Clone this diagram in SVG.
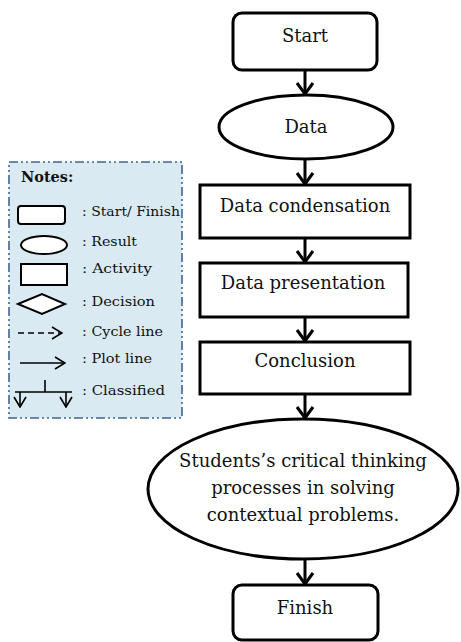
<svg xmlns="http://www.w3.org/2000/svg" width="461" height="642" viewBox="0 0 461 642">
<defs>
<style>
.bg{fill:#ffffff}
.node{fill:#ffffff;stroke:#000;stroke-width:3}
.t{font-family:"DejaVu Serif","Liberation Serif",serif;font-size:18px;fill:#111;text-anchor:middle}
.lg{fill:#daeaf3;stroke:#3f6590;stroke-width:1.6;stroke-dasharray:9,3,2,3,2,3}
.ls{fill:#ffffff;stroke:#000;stroke-width:2}
.lt{font-family:"DejaVu Serif","Liberation Serif",serif;font-size:13.5px;fill:#111}
.lh{font-family:"DejaVu Serif","Liberation Serif",serif;font-size:14.5px;font-weight:bold;fill:#111}
.conn{fill:none;stroke:#000;stroke-width:3}
.ll{fill:none;stroke:#000;stroke-width:1.6}
</style>
<marker id="ah" viewBox="0 0 14 20" refX="12" refY="10" markerWidth="14" markerHeight="20" markerUnits="userSpaceOnUse" orient="auto">
<path d="M1,2 L12,10 L1,18" fill="none" stroke="#000" stroke-width="3"/>
</marker>
<marker id="ahs" viewBox="0 0 12 14" refX="11" refY="7" markerWidth="12" markerHeight="14" markerUnits="userSpaceOnUse" orient="auto">
<path d="M1,1 L11,7 L1,13" fill="none" stroke="#000" stroke-width="1.6"/>
</marker>
</defs>
<rect class="bg" x="0" y="0" width="461" height="642"/>

<g id="legend">
<rect class="lg" x="9" y="162" width="173" height="256"/>
<text class="lh" x="21" y="182">Notes:</text>
<rect class="ls" x="18" y="206" width="47" height="18" rx="3"/>
<text class="lt" x="82" y="216" textLength="98" lengthAdjust="spacingAndGlyphs">: Start/ Finish</text>
<ellipse class="ls" cx="44" cy="245" rx="23" ry="9"/>
<text class="lt" x="82" y="246" textLength="55" lengthAdjust="spacingAndGlyphs">: Result</text>
<rect class="ls" x="21" y="264" width="46" height="21"/>
<text class="lt" x="82" y="273" textLength="70" lengthAdjust="spacingAndGlyphs">: Activity</text>
<polygon class="ls" points="18,304 42,294 65,304 42,314"/>
<text class="lt" x="82" y="306" textLength="73" lengthAdjust="spacingAndGlyphs">: Decision</text>
<line class="ll" x1="18" y1="333" x2="62" y2="333" stroke-dasharray="6,4" marker-end="url(#ahs)"/>
<text class="lt" x="82" y="336" textLength="81" lengthAdjust="spacingAndGlyphs">: Cycle line</text>
<line class="ll" x1="20" y1="363" x2="65" y2="363" marker-end="url(#ahs)"/>
<text class="lt" x="82" y="363" textLength="70" lengthAdjust="spacingAndGlyphs">: Plot line</text>
<path class="ll" d="M15,392 H72 M45,380 V392"/>
<line class="ll" x1="20" y1="392" x2="20" y2="407" marker-end="url(#ahs)"/>
<line class="ll" x1="66" y1="392" x2="66" y2="407" marker-end="url(#ahs)"/>
<text class="lt" x="82" y="395" textLength="83" lengthAdjust="spacingAndGlyphs">: Classified</text>
</g>

<g id="connectors">
<line class="conn" x1="305" y1="70" x2="305" y2="94" marker-end="url(#ah)"/>
<line class="conn" x1="305" y1="159" x2="305" y2="184" marker-end="url(#ah)"/>
<line class="conn" x1="305" y1="238" x2="305" y2="262" marker-end="url(#ah)"/>
<line class="conn" x1="305" y1="317" x2="305" y2="341" marker-end="url(#ah)"/>
<line class="conn" x1="305" y1="394" x2="305" y2="418" marker-end="url(#ah)"/>
<line class="conn" x1="305" y1="559" x2="305" y2="584" marker-end="url(#ah)"/>
</g>

<g id="start">
<rect class="node" x="233" y="13" width="144" height="57" rx="9"/>
<text class="t" x="305" y="42">Start</text>
</g>
<g id="data">
<ellipse class="node" cx="306" cy="127" rx="87" ry="32"/>
<text class="t" x="306" y="133">Data</text>
</g>
<g id="condensation">
<rect class="node" x="200" y="185" width="210" height="53"/>
<text class="t" x="305" y="212">Data condensation</text>
</g>
<g id="presentation">
<rect class="node" x="200" y="263" width="208" height="54"/>
<text class="t" x="303" y="289">Data presentation</text>
</g>
<g id="conclusion">
<rect class="node" x="200" y="342" width="210" height="52"/>
<text class="t" x="305" y="367">Conclusion</text>
</g>
<g id="result">
<ellipse class="node" cx="303" cy="489" rx="155" ry="70"/>
<text class="t" x="303" y="467">Students’s critical thinking</text>
<text class="t" x="303" y="494">processes in solving</text>
<text class="t" x="303" y="521">contextual problems.</text>
</g>
<g id="finish">
<rect class="node" x="233" y="585" width="145" height="55" rx="9"/>
<text class="t" x="305" y="614">Finish</text>
</g>
</svg>
